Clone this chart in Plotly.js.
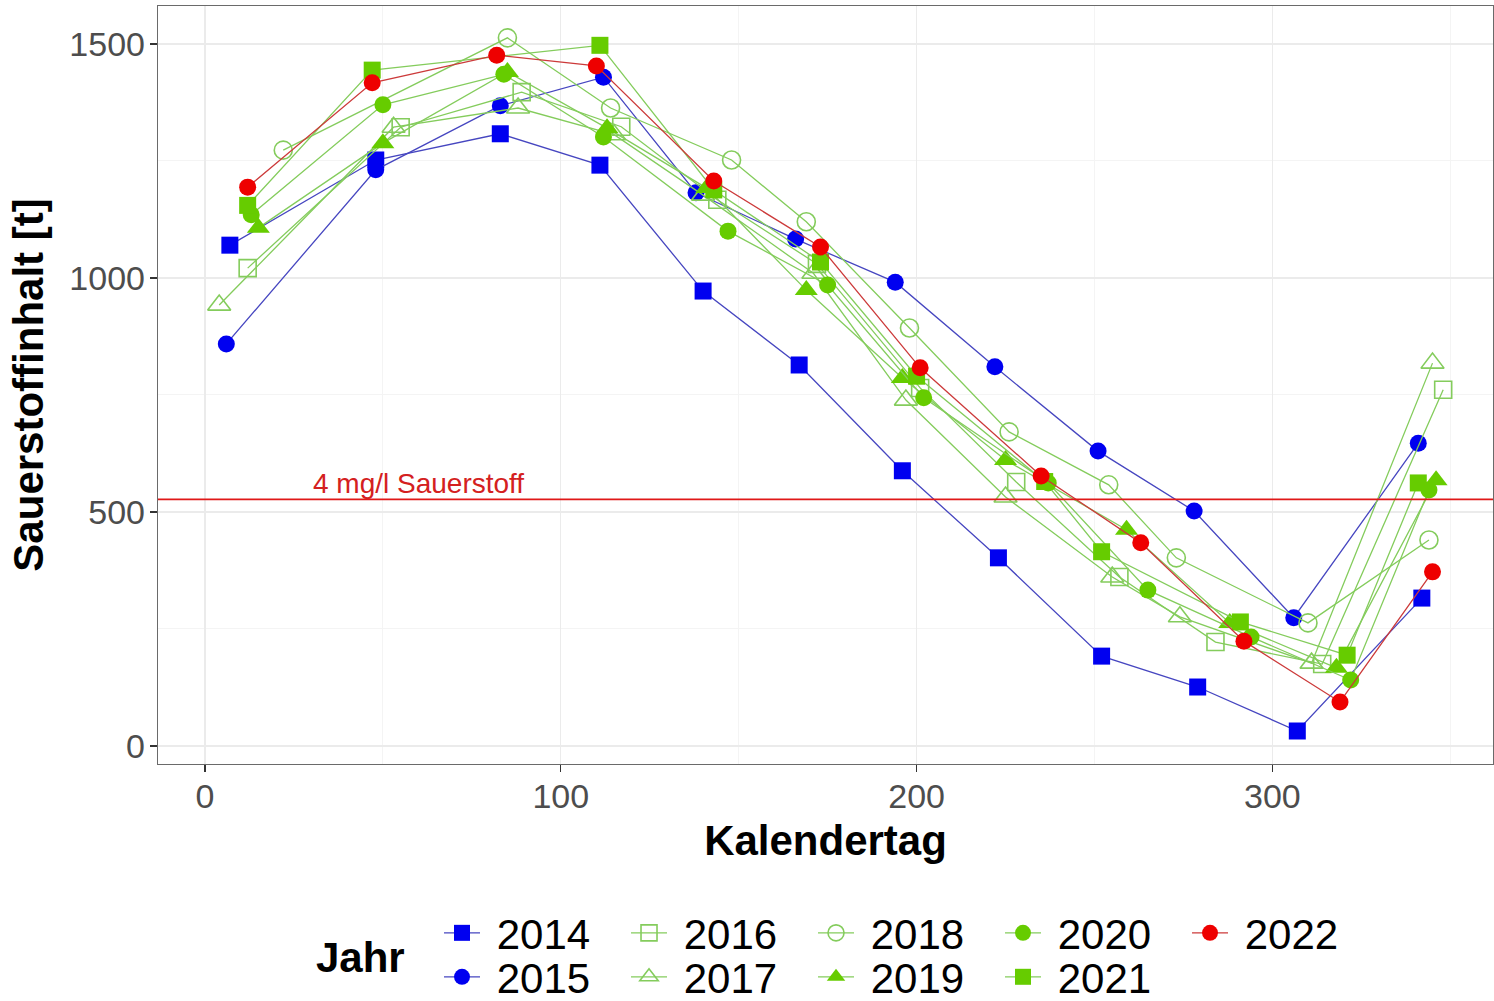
<!DOCTYPE html>
<html>
<head>
<meta charset="utf-8">
<script src="https://cdn.plot.ly/plotly-3.0.1.min.js"></script>
<style>html,body{margin:0;padding:0;background:#fff;}#chart{width:1494px;height:1001px;}</style>
</head>
<body>
<div id="chart"></div>
<script>
// ---- data (Kalendertag, Sauerstoffinhalt [t]) ----
const years = ['2014','2015','2016','2017','2018','2019','2020','2021','2022'];
const days2014 = [7, 48, 83, 111, 140, 167, 196, 223, 252, 279, 307, 342];
const vals2014 = [1070, 1252, 1308, 1241, 972, 814, 588, 402, 192, 126, 32, 316];
const days2015 = [6, 48, 83, 112, 138, 166, 194, 222, 251, 278, 306, 341];
const vals2015 = [859, 1231, 1368, 1429, 1182, 1083, 991, 810, 630, 502, 274, 647];
const days2016 = [12, 55, 89, 117, 144, 172, 201, 228, 257, 284, 314, 348];
const vals2016 = [1021, 1322, 1397, 1323, 1167, 1030, 765, 564, 361, 222, 175, 761];
const days2017 = [4, 53, 88, 115, 140, 171, 197, 225, 255, 274, 311, 345];
const vals2017 = [942, 1322, 1363, 1306, 1177, 1010, 739, 532, 361, 276, 177, 818];
const days2018 = [22, 85, 114, 148, 169, 198, 226, 254, 273, 310, 344];
const vals2018 = [1273, 1513, 1363, 1252, 1120, 893, 671, 558, 402, 263, 440];
const days2019 = [15, 50, 85, 113, 141, 169, 196, 225, 259, 288, 318, 346];
const vals2019 = [1107, 1288, 1440, 1320, 1192, 974, 786, 611, 462, 263, 167, 568];
const days2020 = [13, 50, 84, 112, 147, 175, 202, 237, 265, 294, 322, 344];
const vals2020 = [1135, 1370, 1435, 1301, 1100, 985, 744, 562, 333, 233, 141, 547];
const days2021 = [12, 47, 111, 143, 173, 200, 236, 252, 291, 321, 341];
const vals2021 = [1155, 1444, 1497, 1188, 1034, 790, 565, 415, 265, 194, 562];
const days2022 = [12, 47, 82, 110, 143, 173, 201, 235, 263, 292, 319, 345];
const vals2022 = [1194, 1417, 1476, 1453, 1207, 1066, 808, 577, 434, 224, 94, 372];
const thresholdValue = 527;
const thresholdLabel = '4 mg/l Sauerstoff';
const xTicks = [0, 100, 200, 300];
const yTicks = [0, 500, 1000, 1500];

const allDays = [days2014, days2015, days2016, days2017, days2018, days2019, days2020, days2021, days2022];
const allVals = [vals2014, vals2015, vals2016, vals2017, vals2018, vals2019, vals2020, vals2021, vals2022];

// ---- styles ----
const FONT = 'Liberation Sans, Arial, sans-serif';
const BLUE_M = '#0000f0', BLUE_L = '#4646c0';
const GREEN_M = '#66cc00', GREEN_L = '#84cc5c';
const RED_M = '#ee0000', RED_L = '#cc3a3a';
const styles = {
  '2014': {sym: 'square', mc: BLUE_M, lc: BLUE_L, size: 17, leg: 'legend'},
  '2015': {sym: 'circle', mc: BLUE_M, lc: BLUE_L, size: 17, leg: 'legend2'},
  '2016': {sym: 'square-open', mc: GREEN_L, lc: GREEN_L, size: 17, leg: 'legend'},
  '2017': {sym: 'triangle-up-open', mc: GREEN_L, lc: GREEN_L, size: 20, leg: 'legend2'},
  '2018': {sym: 'circle-open', mc: GREEN_L, lc: GREEN_L, size: 18, leg: 'legend'},
  '2019': {sym: 'triangle-up', mc: GREEN_M, lc: GREEN_L, size: 20, leg: 'legend2'},
  '2020': {sym: 'circle', mc: GREEN_M, lc: GREEN_L, size: 17, leg: 'legend'},
  '2021': {sym: 'square', mc: GREEN_M, lc: GREEN_L, size: 17, leg: 'legend2'},
  '2022': {sym: 'circle', mc: RED_M, lc: RED_L, size: 17, leg: 'legend'}
};

const traces = years.map((yr, i) => {
  const s = styles[yr];
  return {
    type: 'scatter', mode: 'lines+markers', name: '\u00a0' + yr,
    x: allDays[i], y: allVals[i],
    legend: s.leg,
    line: {color: s.lc, width: 1.3},
    marker: {symbol: s.sym, size: s.size, color: s.mc, line: {color: s.mc, width: s.sym.indexOf('open') >= 0 ? 1.6 : 0}}
  };
});

const legendCommon = {
  orientation: 'h', xanchor: 'left', yanchor: 'middle',
  font: {family: FONT, size: 42, color: '#000'},
  bgcolor: 'rgba(0,0,0,0)', borderwidth: 0,
  entrywidth: 136, entrywidthmode: 'pixels', itemwidth: 36,
  traceorder: 'normal'
};

const layout = {
  width: 1494, height: 1001,
  margin: {l: 158, r: 1, t: 6, b: 237, autoexpand: false},
  paper_bgcolor: '#fff', plot_bgcolor: '#fff',
  font: {family: FONT},
  showlegend: true,
  legend: Object.assign({}, legendCommon, {x: 0.2105, y: -0.2230}),
  legend2: Object.assign({}, legendCommon, {x: 0.2105, y: -0.2810}),
  xaxis: {
    range: [-13.2, 362], tickvals: xTicks, ticktext: xTicks.map(String),
    showgrid: true, gridcolor: '#ebebeb', gridwidth: 1.3,
    minor: {dtick: 50, tick0: 0, showgrid: true, gridcolor: '#f4f4f4', gridwidth: 1},
    zeroline: false, showline: true, mirror: true, linecolor: '#6a6a6a', linewidth: 1.2,
    ticks: 'outside', ticklen: 7, tickcolor: '#333', tickwidth: 1.2, ticklabelstandoff: -5,
    tickfont: {family: FONT, size: 34, color: '#4d4d4d'},
    title: {text: 'Kalendertag', font: {family: FONT, size: 42, color: '#000', weight: 'bold'}, standoff: 11}
  },
  yaxis: {
    range: [-38.5, 1581], tickvals: yTicks, ticktext: yTicks.map(String),
    showgrid: true, gridcolor: '#ebebeb', gridwidth: 1.3,
    minor: {dtick: 250, tick0: 0, showgrid: true, gridcolor: '#f4f4f4', gridwidth: 1},
    zeroline: false, showline: true, mirror: true, linecolor: '#6a6a6a', linewidth: 1.2,
    ticks: 'outside', ticklen: 7, tickcolor: '#333', tickwidth: 1.2, ticklabelstandoff: -2,
    tickfont: {family: FONT, size: 34, color: '#4d4d4d'},
    title: {text: 'Sauerstoffinhalt [t]', font: {family: FONT, size: 42, color: '#000', weight: 'bold'}, standoff: 12}
  },
  shapes: [{
    type: 'line', xref: 'paper', x0: 0, x1: 1, yref: 'y', y0: thresholdValue, y1: thresholdValue,
    line: {color: '#e01818', width: 1.7}
  }],
  annotations: [{
    x: 60, y: thresholdValue, xref: 'x', yref: 'y', text: thresholdLabel, showarrow: false,
    xanchor: 'center', yanchor: 'bottom', yshift: -2,
    font: {family: FONT, size: 28, color: '#d42020'}
  }, {
    x: (360 - 158) / (1494 - 158 - 1), y: (764 - 957) / (1001 - 6 - 237),
    xref: 'paper', yref: 'paper', text: '<b>Jahr</b>', showarrow: false,
    xanchor: 'center', yanchor: 'middle',
    font: {family: FONT, size: 42, color: '#000'}
  }]
};

Plotly.newPlot('chart', traces, layout, {displayModeBar: false, staticPlot: true});
</script>
</body>
</html>
